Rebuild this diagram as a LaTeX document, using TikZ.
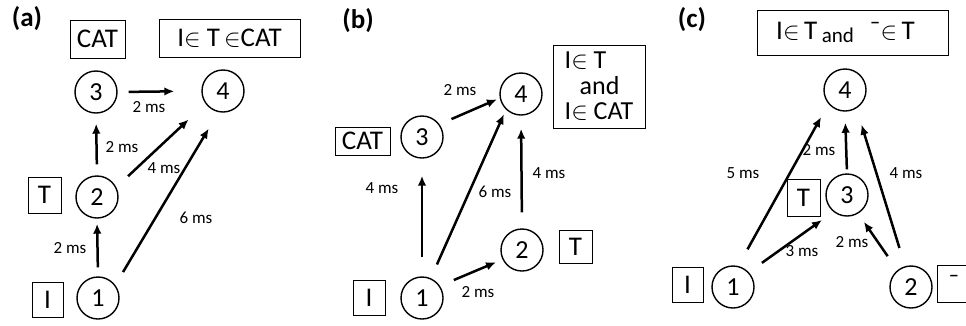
\documentclass[tikz,border=0pt]{standalone}
\usepackage{fontspec}
\setmainfont{Carlito}
\usetikzlibrary{arrows.meta}

\begin{document}
\begin{tikzpicture}[x=1pt,y=-1pt,
  state/.style={circle,draw,line width=1.4pt,minimum size=42pt,inner sep=0pt,
    font=\fontsize{26}{26}\selectfont},
  tag/.style={draw,line width=0.9pt,inner sep=0pt,font=\fontsize{27}{25}\selectfont},
  lbl/.style={font=\fontsize{17}{17}\selectfont},
  panel/.style={font=\fontsize{27}{27}\selectfont\bfseries},
  link/.style={line width=2.5pt,-{Latex[length=10pt,width=8.5pt]}}]
\useasboundingbox (0,0) rectangle (966,325);

% ---------- (a) ----------
\node[panel] (pa) at (27,19) {(a)};
\node[state] (a1) at (98,298) {1};
\node[state] (a2) at (97,197) {2};
\node[state] (a3) at (96,92) {3};
\node[state] (a4) at (223,91) {4};
\node[tag,minimum width=55pt,minimum height=38pt] (ta3) at (97.5,39) {CAT};
\node[tag,minimum width=141pt,minimum height=38pt] (ta4) at (229.5,38) {I$\in$ T$\,\in$CAT};
\node[tag,minimum width=33pt,minimum height=36pt] (ta2) at (44.5,195) {T};
\node[tag,minimum width=31pt,minimum height=35pt] (ta1) at (47.5,299.5) {I};

\draw[link,shorten <=9pt,shorten >=5pt] (a1.90) -- (a2.270);
\draw[link,shorten <=11pt,shorten >=10pt] (a2.90) -- (a3.270);
\draw[link,shorten <=11pt,shorten >=27pt] (a3.0) -- (a4.180);
\draw[link,shorten <=16pt,shorten >=23pt] (a2.27) -- (a4.216);
\draw[link,shorten <=15pt,shorten >=19pt] (a1.37) -- (a4.258);

\node[lbl] (la12) at (70,248) {2 ms};
\node[lbl] (la23) at (122,147) {2 ms};
\node[lbl] (la34) at (149,107) {2 ms};
\node[lbl] (la24) at (164,168) {4 ms};
\node[lbl] (la14) at (196,218) {6 ms};

% ---------- (b) ----------
\node[panel] (pb) at (358,21) {(b)};
\node[state] (b1) at (422,298) {1};
\node[state] (b2) at (522,250) {2};
\node[state] (b3) at (422,137) {3};
\node[state] (b4) at (521,94) {4};
\node[tag,minimum width=55pt,minimum height=28pt] (tb3) at (362.5,141) {CAT};
\node[tag,minimum width=92pt,minimum height=83pt,align=left,
  font=\fontsize{26}{25.5}\selectfont] (tb4) at (599,86.5)
  {I$\in$ T\\\hspace*{15pt}and\\I$\in$ CAT};
\node[tag,minimum width=33pt,minimum height=33pt] (tb2) at (575.5,246.5) {T};
\node[tag,minimum width=32pt,minimum height=35pt] (tb1) at (369,297.5) {I};

\draw[link,shorten <=13pt,shorten >=3pt] (b3.36) -- (b4.191);
\draw[link,shorten <=19pt,shorten >=17pt] (b1.90) -- (b3.270);
\draw[link,shorten <=15pt,shorten >=5pt] (b1.66) -- (b4.226);
\draw[link,shorten <=15pt,shorten >=7pt] (b1.34) -- (b2.206);
\draw[link,shorten <=16pt,shorten >=13pt] (b2.90) -- (b4.270);

\node[lbl] (lb34) at (460,90) {2 ms};
\node[lbl] (lb13) at (382,188) {4 ms};
\node[lbl] (lb14) at (495,192) {6 ms};
\node[lbl] (lb24) at (549,173) {4 ms};
\node[lbl] (lb12) at (478,292) {2 ms};

% ---------- (c) ----------
\node[panel] (pc) at (692,20) {(c)};
\node[state] (c1) at (733,287) {1};
\node[state] (c2) at (911,287) {2};
\node[state] (c3) at (847,195) {3};
\node[state] (c4) at (845,90) {4};
\node[tag,minimum width=191pt,minimum height=45pt] (tc4) at (852.5,32.5)
  {I$\in$\,T\,\raisebox{-3pt}{\fontsize{21}{21}\selectfont and}\hspace{16pt}¯$\in$\,T\hspace*{14pt}};
\node[tag,minimum width=33pt,minimum height=37pt] (tc3) at (803.5,197.5) {T};
\node[tag,minimum width=31pt,minimum height=35pt] (tc1) at (687.5,284.5) {I};
\node[tag,minimum width=34pt,minimum height=37pt] (tc2) at (954,283.5) {¯};

\draw[link,shorten <=19pt,shorten >=15pt] (c1.76) -- (c4.220);
\draw[link,shorten <=16pt,shorten >=14pt] (c1.43) -- (c3.231);
\draw[link,shorten <=4pt,shorten >=11pt] (c3.90) -- (c4.270);
\draw[link,shorten <=17pt,shorten >=10pt] (c2.129) -- (c3.301);
\draw[link,shorten <=19pt,shorten >=17pt] (c2.106) -- (c4.302);

\node[lbl] (lc14) at (743,173) {5 ms};
\node[lbl] (lc34) at (819,150) {2 ms};
\node[lbl] (lc24) at (906,173) {4 ms};
\node[lbl] (lc13) at (802,251) {3 ms};
\node[lbl] (lc23) at (852,242) {2 ms};
\end{tikzpicture}
\end{document}
